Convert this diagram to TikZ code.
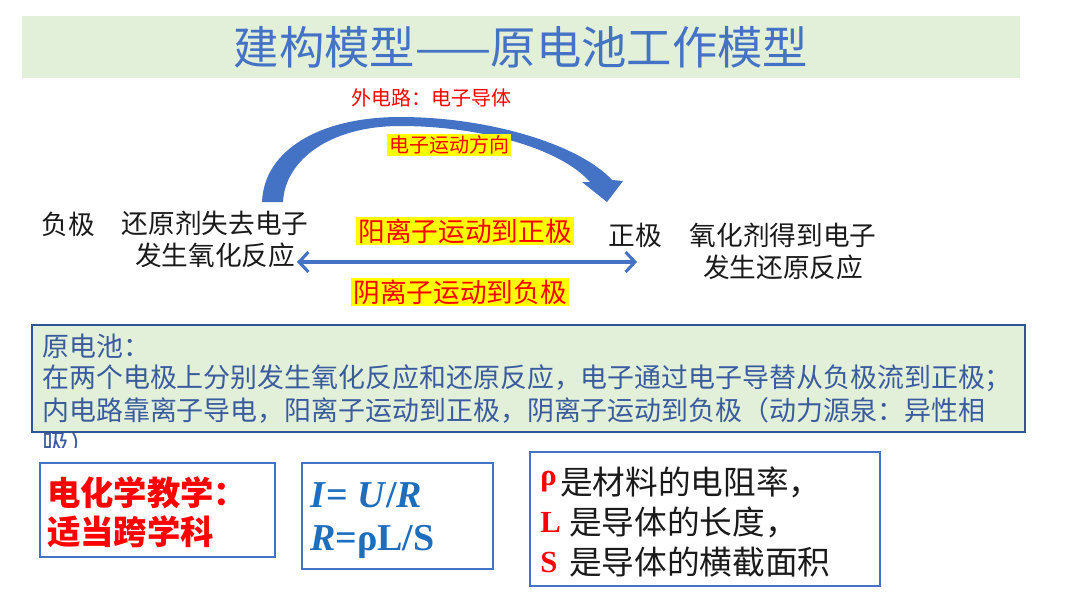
\documentclass[tikz,border=0pt]{standalone}
\usepackage{fontspec}
\setmainfont{Liberation Serif}
\newfontfamily\cjk{Noto Sans CJK SC}
\usetikzlibrary{arrows.meta}
\definecolor{greenbg}{HTML}{E2F0D9}
\definecolor{accent}{HTML}{4472C4}
\definecolor{boxline}{HTML}{2F5597}
\definecolor{boxtext}{HTML}{3A5C9E}
\definecolor{formula}{HTML}{1E6EBE}
\definecolor{darktext}{HTML}{1A1A1A}
\definecolor{hl}{HTML}{FFFF00}
\definecolor{redtext}{HTML}{FF0000}
\newcommand\fsz[2]{\fontsize{#1}{#2}\selectfont}
\tikzset{
  plain/.style={inner sep=0pt, outer sep=0pt, text=darktext, font=\cjk\fsz{20pt}{24pt}, align=center},
  hilite/.style={fill=hl, text=redtext, inner sep=1.5pt, font=\cjk\fsz{20pt}{24pt}},
  boxline/.style={anchor=west, inner sep=0pt, text=boxtext, font=\cjk\fsz{20.2pt}{24pt}},
  framebox/.style={draw=accent, line width=1.5pt, fill=white, inner sep=0pt},
  ionarrow/.style={draw=accent, line width=2.3pt, {Straight Barb[length=7pt,width=15pt]}-{Straight Barb[length=7pt,width=15pt]}},
}
\begin{document}
\begin{tikzpicture}[x=0.75pt,y=-0.75pt]
\useasboundingbox (0,0) rectangle (1080,608);
\fill[white] (0,0) rectangle (1080,608);

% title band
\fill[greenbg] (22,16) rectangle (1020,78);
\node[inner sep=0pt, text=accent, font=\cjk\fsz{34pt}{36pt}] (title) at (521,47) {建构模型——原电池工作模型};

% outer circuit label
\node[plain, text=redtext, font=\cjk\fsz{15pt}{18pt}] (ext) at (431,98) {外电路：电子导体};

% curved electron arrow
\fill[accent] (262,202) .. controls (264,150) and (320,117) .. (400,117)
  .. controls (490,117) and (580,145) .. (612,180) -- (623,181) -- (607,202) -- (582,182) -- (590,182)
  .. controls (560,148) and (480,126) .. (400,126)
  .. controls (330,126) and (285,160) .. (283,202) -- cycle;
\node[hilite, font=\cjk\fsz{15pt}{18pt}] (edir) at (449,145) {电子运动方向};

% left electrode
\node[plain] (neg) at (68,224) {负极};
\node[plain, text width=200pt] (negtext) at (215,239) {还原剂失去电子\\发生氧化反应};

% right electrode
\node[plain] (pos) at (635,235) {正极};
\node[plain, text width=200pt] (postext) at (783,251) {氧化剂得到电子\\发生还原反应};

% ion movement
\node[hilite] (cation) at (465,231) {阳离子运动到正极};
\node[hilite] (anion) at (460,292) {阴离子运动到负极};
\coordinate (ionL) at (297,262);
\coordinate (ionR) at (637,262);
\draw[ionarrow] (ionL) -- (ionR);

% overflow text (clipped)
\begin{scope}
\clip (30,432) rectangle (200,447);
\node[boxline] (overflow) at (42,443) {吸）};
\end{scope}

% summary box
\node[draw=boxline, line width=1.6pt, fill=greenbg, minimum width=744.75pt, minimum height=80.25pt, inner sep=0pt] (summary) at (528.5,378.5) {};
\node[boxline] (s1) at (42,346) {原电池：};
\node[boxline] (s2) at (42,378) {在两个电极上分别发生氧化反应和还原反应，电子通过电子导替从负极流到正极；};
\node[boxline] (s3) at (42,410) {内电路靠离子导电，阳离子运动到正极，阴离子运动到负极（动力源泉：异性相};

% box 1
\node[framebox, minimum width=176.25pt, minimum height=70.5pt] (b1) at (157.5,510) {};
\node[anchor=west, inner sep=0pt, text=redtext, font=\cjk\bfseries\fsz{25pt}{29pt}, align=left] (b1t) at (47,512) {电化学教学：\\适当跨学科};

% box 2
\node[framebox, minimum width=143.25pt, minimum height=79.5pt] (b2) at (397.5,516) {};
\node[anchor=west, inner sep=0pt, text=formula, font=\bfseries\fsz{28.5pt}{32pt}] (f1) at (310,495) {\textit{I}= \textit{U}/\textit{R}};
\node[anchor=west, inner sep=0pt, text=formula, font=\bfseries\fsz{28.5pt}{32pt}] (f2) at (310,542) {\textit{R}=ρL/S};

% box 3
\node[framebox, minimum width=262.5pt, minimum height=100.5pt] (b3) at (705,519) {};
\node[anchor=west, inner sep=0pt, text=redtext, font=\bfseries\fsz{23pt}{26pt}] (rho) at (540,482) {ρ};
\node[anchor=west, inner sep=0pt, text=darktext, font=\cjk\fsz{24.5pt}{26pt}] (d1) at (560,482) {是材料的电阻率，};
\node[anchor=west, inner sep=0pt, text=redtext, font=\bfseries\fsz{23pt}{26pt}] (ll) at (540,522) {L};
\node[anchor=west, inner sep=0pt, text=darktext, font=\cjk\fsz{24.5pt}{26pt}] (d2) at (569,522) {是导体的长度，};
\node[anchor=west, inner sep=0pt, text=redtext, font=\bfseries\fsz{23pt}{26pt}] (ss) at (540,562) {S};
\node[anchor=west, inner sep=0pt, text=darktext, font=\cjk\fsz{24.5pt}{26pt}] (d3) at (569,562) {是导体的横截面积};
\end{tikzpicture}
\end{document}
